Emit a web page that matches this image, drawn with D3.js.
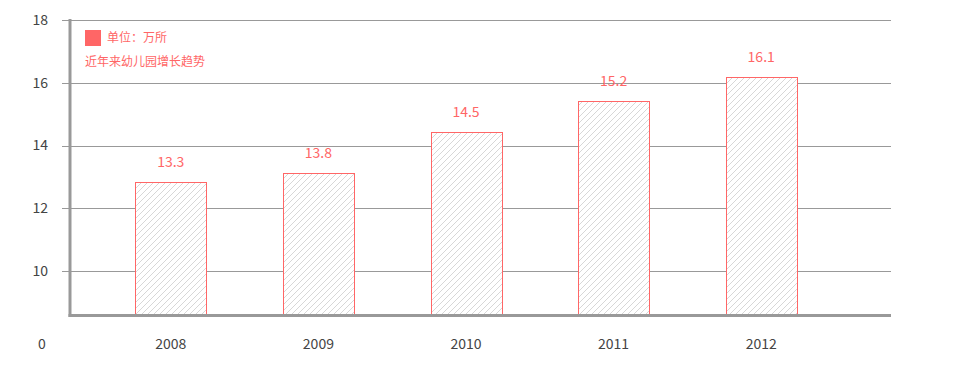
<!DOCTYPE html>
<html>
<head>
<meta charset="utf-8">
<script src="https://cdn.jsdelivr.net/npm/d3@7"></script>
<style>
  body { margin: 0; background: #fff; }
  text { font-family: "Noto Sans CJK SC", "Noto Sans", sans-serif; }
</style>
</head>
<body>
<div id="viz"></div>
<script>
// data
const years = ["2008", "2009", "2010", "2011", "2012"]
const barValues = [12.84, 13.12, 14.43, 15.42, 16.18]
const valueLabels = ["13.3", "13.8", "14.5", "15.2", "16.1"]
const yTicks = [10, 12, 14, 16, 18]
const unitText = "单位：万所"
const titleText = "近年来幼儿园增长趋势"

const width = 979, height = 386
const red = "#ff6666", grid = "#999"

const svg = d3.select("#viz").append("svg")
  .attr("width", width)
  .attr("height", height)

// hatch pattern for bars
const pat = svg.append("defs").append("pattern")
  .attr("id", "hatch")
  .attr("patternUnits", "userSpaceOnUse")
  .attr("width", 6).attr("height", 6)
pat.append("rect").attr("width", 6).attr("height", 6).attr("fill", "#fff")
pat.append("path")
  .attr("d", "M0,6L6,0M-1,1L1,-1M5,7L7,5")
  .attr("stroke", "#d2d2d2").attr("stroke-width", 0.9)

const x = d3.scaleBand()
  .domain(years)
  .range([97, 835])
  .paddingInner(0.52)
  .paddingOuter(0.26)

const y = d3.scaleLinear()
  .domain([8.6, 18])
  .range([315, 20])

const left = 70, right = 891

// gridlines + y labels
svg.append("g").selectAll("line")
  .data(yTicks)
  .join("line")
    .attr("x1", 62).attr("x2", right)
    .attr("y1", d => Math.round(y(d)) + 0.5)
    .attr("y2", d => Math.round(y(d)) + 0.5)
    .attr("stroke", grid).attr("stroke-width", 1)

svg.append("g").selectAll("text")
  .data(yTicks)
  .join("text")
    .attr("x", 48)
    .attr("y", d => y(d))
    .attr("dy", "0.35em")
    .attr("text-anchor", "end")
    .attr("font-size", 14)
    .attr("fill", "#444")
    .text(d => d)

svg.append("text")
  .attr("x", 42).attr("y", 344).attr("dy", "0.35em")
  .attr("text-anchor", "middle")
  .attr("font-size", 14).attr("fill", "#444")
  .text("0")

// bars
svg.append("g").selectAll("rect")
  .data(barValues)
  .join("rect")
    .attr("x", (d, i) => Math.round(x(years[i])) + 0.5)
    .attr("y", d => Math.round(y(d)) + 0.5)
    .attr("width", Math.round(x.bandwidth()))
    .attr("height", d => y.range()[0] - Math.round(y(d)))
    .attr("fill", "url(#hatch)")
    .attr("stroke", red).attr("stroke-width", 1)

// value labels
svg.append("g").selectAll("text")
  .data(barValues)
  .join("text")
    .attr("x", (d, i) => x(years[i]) + x.bandwidth() / 2)
    .attr("y", d => y(d) - 20)
    .attr("dy", "0.35em")
    .attr("text-anchor", "middle")
    .attr("font-size", 14)
    .attr("fill", red)
    .text((d, i) => valueLabels[i])

// axes lines
svg.append("line")
  .attr("x1", left).attr("x2", left)
  .attr("y1", 19).attr("y2", 317)
  .attr("stroke", grid).attr("stroke-width", 3)
svg.append("line")
  .attr("x1", left - 1.5).attr("x2", right)
  .attr("y1", 315.5).attr("y2", 315.5)
  .attr("stroke", grid).attr("stroke-width", 3)

// x labels
svg.append("g").selectAll("text")
  .data(years)
  .join("text")
    .attr("x", d => x(d) + x.bandwidth() / 2)
    .attr("y", 344)
    .attr("dy", "0.35em")
    .attr("text-anchor", "middle")
    .attr("font-size", 14)
    .attr("fill", "#444")
    .text(d => d)

// legend
svg.append("rect")
  .attr("x", 85).attr("y", 30)
  .attr("width", 16).attr("height", 16)
  .attr("fill", red)
svg.append("text")
  .attr("x", 107).attr("y", 38).attr("dy", "0.35em")
  .attr("font-size", 12).attr("fill", red)
  .text(unitText)
svg.append("text")
  .attr("x", 85).attr("y", 62).attr("dy", "0.35em")
  .attr("font-size", 12).attr("fill", red)
  .text(titleText)
</script>
</body>
</html>
